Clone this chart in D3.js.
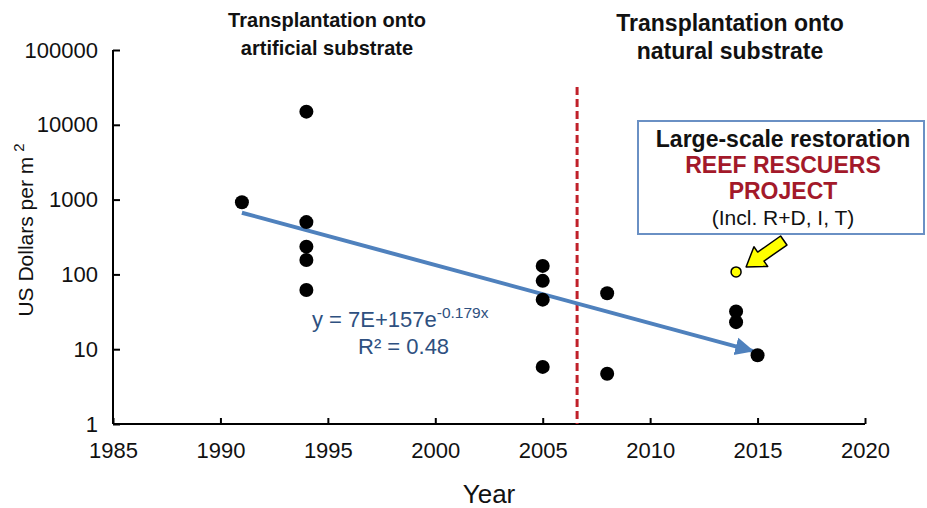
<!DOCTYPE html>
<html>
<head>
<meta charset="utf-8">
<script src="https://cdn.jsdelivr.net/npm/d3@7"></script>
<style>
  html, body { margin: 0; padding: 0; background: #fff; }
  svg { display: block; font-family: "Liberation Sans", Arial, sans-serif; }
</style>
</head>
<body>
<svg id="chart" width="927" height="508"></svg>
<script>
// ---------------- data ----------------
const years  = [1991, 1994, 1994, 1994, 1994, 1994, 2005, 2005, 2005, 2005, 2008, 2008, 2014, 2014, 2015];
const costs  = [920, 15000, 500, 235, 156, 62, 130, 82, 46, 5.8, 56, 4.7, 32, 23, 8.3];
const highlightYear = [2014];
const highlightCost = [108];
const xTicks = [1985, 1990, 1995, 2000, 2005, 2010, 2015, 2020];
const yTicks = [1, 10, 100, 1000, 10000, 100000];
const yTickLabels = ["1", "10", "100", "1000", "10000", "100000"];
const trendYears = [1991, 2014.8];
const trendRate = -0.179;      // exponent per year from the fitted equation
const trendStartValue = 668;   // fitted value at 1991 as drawn
const dividerYear = [2006.6];

// ---------------- scales ----------------
const svg = d3.select("#chart");
const x = d3.scaleLinear().domain([1985, 2020]).range([113, 865]);
const y = d3.scaleLog().domain([1, 100000]).range([424, 50]);

// ---------------- axes ----------------
const xAxis = d3.axisBottom(x).tickValues(xTicks).tickSize(-6).tickPadding(14).tickFormat(d3.format("d"));
const gx = svg.append("g").attr("transform", `translate(0,${y(1)})`).call(xAxis);
gx.select(".domain").attr("d", `M${x(1985)},0H${x(2020)}`);
gx.selectAll("path,line").attr("stroke", "#000").attr("stroke-width", 2);
gx.selectAll("text").attr("font-size", 22).attr("fill", "#111").attr("dy", "0.9em");

const yAxis = d3.axisLeft(y).tickValues(yTicks).tickSize(-7).tickPadding(15)
  .tickFormat((d, i) => yTickLabels[i]);
const gy = svg.append("g").attr("transform", `translate(${x(1985)},0)`).call(yAxis);
gy.select(".domain").attr("d", `M0,${y(1)}V${y(100000)}`);
gy.selectAll("path,line").attr("stroke", "#000").attr("stroke-width", 2);
gy.selectAll("text").attr("font-size", 22).attr("fill", "#111");

// axis titles
svg.append("text").attr("x", 489).attr("y", 503).attr("text-anchor", "middle")
  .attr("font-size", 26).attr("fill", "#111").text("Year");
const yl = svg.append("text").attr("transform", `translate(33,230) rotate(-90)`)
  .attr("text-anchor", "middle").attr("font-size", 21).attr("fill", "#111");
yl.append("tspan").text("US Dollars per m");
yl.append("tspan").attr("dx", 5).attr("dy", -9).attr("font-size", 15).text("2");

// ---------------- divider ----------------
svg.selectAll(".divider").data(dividerYear).join("line")
  .attr("x1", d => x(d)).attr("x2", d => x(d))
  .attr("y1", 87).attr("y2", y(1))
  .attr("stroke", "#c0202a").attr("stroke-width", 3).attr("stroke-dasharray", "8,4");

// ---------------- trend line with arrow ----------------
const defs = svg.append("defs");
defs.append("marker").attr("id", "arrowBlue")
  .attr("markerUnits", "userSpaceOnUse").attr("markerWidth", 22).attr("markerHeight", 22)
  .attr("viewBox", "0 -11 22 22").attr("refX", 18).attr("refY", 0).attr("orient", "auto")
  .append("path").attr("d", "M0,-9L19,0L0,9Z").attr("fill", "#4f81bd");

const trendPts = trendYears.map(yr => [yr, trendStartValue * Math.exp(trendRate * (yr - trendYears[0]))]);
svg.append("path")
  .attr("d", d3.line().x(d => x(d[0])).y(d => y(d[1]))(trendPts))
  .attr("stroke", "#4f81bd").attr("stroke-width", 4).attr("fill", "none")
  .attr("marker-end", "url(#arrowBlue)");

// ---------------- points ----------------
svg.selectAll(".pt").data(years.map((yr, i) => [yr, costs[i]])).join("circle")
  .attr("cx", d => x(d[0])).attr("cy", d => y(d[1])).attr("r", 7).attr("fill", "#000");

svg.selectAll(".hl").data(highlightYear.map((yr, i) => [yr, highlightCost[i]])).join("circle")
  .attr("cx", d => x(d[0])).attr("cy", d => y(d[1])).attr("r", 5)
  .attr("fill", "#ffff00").attr("stroke", "#000").attr("stroke-width", 1.5);

// yellow block arrow pointing at the highlighted point
const hx = x(highlightYear[0]), hy = y(highlightCost[0]);
svg.append("path")
  .attr("d", "M0,0L-18,-12L-18,-5.5L-46,-5.5L-46,5.5L-18,5.5L-18,12Z")
  .attr("transform", `translate(${hx + 10},${hy - 5}) rotate(145)`)
  .attr("fill", "#ffff00").attr("stroke", "#000").attr("stroke-width", 1.5).attr("stroke-linejoin", "round");

// ---------------- equation ----------------
const eq = svg.append("text").attr("x", 312).attr("y", 327).attr("font-size", 22).attr("fill", "#2e5080");
eq.append("tspan").text("y = 7E+157e");
eq.append("tspan").attr("dy", -9).attr("font-size", 15.5).text("-0.179x");
const r2 = svg.append("text").attr("x", 358).attr("y", 354).attr("font-size", 22).attr("fill", "#2e5080");
r2.append("tspan").text("R² = 0.48");

// ---------------- titles ----------------
const leftTitle = ["Transplantation onto", "artificial substrate"];
const rightTitle = ["Transplantation onto", "natural substrate"];
svg.selectAll(".lt").data(leftTitle).join("text")
  .attr("x", 327).attr("y", (d, i) => 27 + i * 28).attr("text-anchor", "middle")
  .attr("font-size", 20).attr("font-weight", "bold").attr("fill", "#111").text(d => d);
svg.selectAll(".rt").data(rightTitle).join("text")
  .attr("x", 730).attr("y", (d, i) => 31 + i * 28).attr("text-anchor", "middle")
  .attr("font-size", 23).attr("font-weight", "bold").attr("fill", "#111").text(d => d);

// ---------------- annotation box ----------------
svg.append("rect").attr("x", 638).attr("y", 121).attr("width", 286).attr("height", 113)
  .attr("fill", "#fff").attr("stroke", "#6a90c4").attr("stroke-width", 2);
const boxLines = [
  {t: "Large-scale restoration", c: "#111", w: "bold", s: 23},
  {t: "REEF RESCUERS", c: "#a3192a", w: "bold", s: 23},
  {t: "PROJECT", c: "#a3192a", w: "bold", s: 23},
  {t: "(Incl. R+D, I, T)", c: "#111", w: "normal", s: 21}
];
svg.selectAll(".bl").data(boxLines).join("text")
  .attr("x", 783).attr("y", (d, i) => 147 + i * 26).attr("text-anchor", "middle")
  .attr("font-size", d => d.s).attr("font-weight", d => d.w).attr("fill", d => d.c).text(d => d.t);
</script>
</body>
</html>
